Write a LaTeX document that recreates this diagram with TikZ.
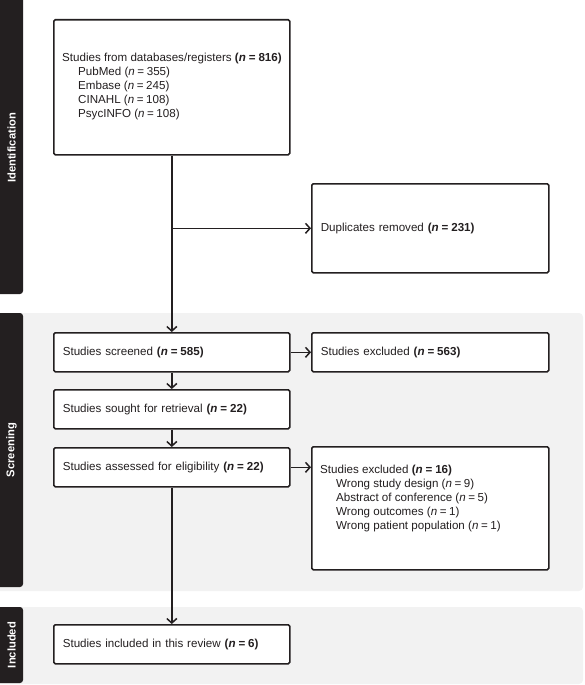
\documentclass[tikz,border=0pt]{standalone}
\usepackage{fontspec}
\setmainfont{Liberation Sans}
\usetikzlibrary{arrows.meta}
\definecolor{ink}{HTML}{231F20}
\definecolor{panel}{HTML}{F2F2F2}
\newcommand{\nb}[1]{\textbf{(\textit{n}\hspace{0.25em}=\hspace{0.25em}#1)}}
\newcommand{\nn}[1]{(\textit{n}\hspace{0.22em}=\hspace{0.22em}#1)}
\begin{document}
\begin{tikzpicture}[x=1pt,y=-1pt,
  box/.style={draw=ink, line width=1.6pt, rounded corners=1.5pt, fill=white,
    anchor=north west, inner xsep=9pt, inner ysep=0pt, align=left,
    font=\fontsize{11.6}{14}\selectfont, text=ink},
  txt/.style={font=\fontsize{11.6}{14}\selectfont, text=ink, align=left, inner sep=0pt},
  side/.style={rotate=90, text=white, font=\bfseries\fontsize{11.2}{12}\selectfont, inner sep=0pt},
  conn/.style={draw=ink, line width=1.5pt, -{Straight Barb[length=4.5pt,width=10pt,line width=1.5pt]}}]
\useasboundingbox (0,0) rectangle (584,685);
% panels
\fill[panel, rounded corners=4pt] (-10,313) rectangle (583,591);
\fill[panel, rounded corners=4pt] (-10,607) rectangle (583,684);
\fill[ink, rounded corners=3pt] (-10,-10) rectangle (23,294);
\fill[ink, rounded corners=3pt] (-10,313) rectangle (23,587);
\fill[ink, rounded corners=3pt] (-10,607) rectangle (23,683);
\node[side] (lid) at (11.5,148) {Identification};
\node[side] (lsc) at (11.5,450) {Screening};
\node[side] (lin) at (11.5,645) {Included};
% boxes
\node[box, minimum width=236pt, minimum height=135pt] (db) at (53,19) {};
\node[txt, anchor=west] (dbt) at (62,86.5)
  {Studies from databases/registers \nb{816}\\
   \hspace*{16pt}PubMed \nn{355}\\
   \hspace*{16pt}Embase \nn{245}\\
   \hspace*{16pt}CINAHL \nn{108}\\
   \hspace*{16pt}PsycINFO \nn{108}};
\node[box, minimum width=237pt, minimum height=89pt, text width=219pt] (dup) at (311,183)
  {Duplicates removed \nb{231}};
\node[box, minimum width=236pt, minimum height=39pt, text width=218pt] (scr) at (53,332)
  {Studies screened \nb{585}};
\node[box, minimum width=237pt, minimum height=39pt, text width=219pt] (ex1) at (311,332)
  {Studies excluded \nb{563}};
\node[box, minimum width=236pt, minimum height=39pt, text width=218pt] (sou) at (53,389)
  {Studies sought for retrieval \nb{22}};
\node[box, minimum width=236pt, minimum height=39pt, text width=218pt] (ass) at (53,447)
  {Studies assessed for eligibility \nb{22}};
\node[box, minimum width=237pt, minimum height=123pt] (ex2) at (311,446) {};
\node[txt, anchor=north west] (ex2t) at (320,465)
  {Studies excluded \nb{16}\\
   \hspace*{16pt}Wrong study design \nn{9}\\
   \hspace*{16pt}Abstract of conference \nn{5}\\
   \hspace*{16pt}Wrong outcomes \nn{1}\\
   \hspace*{16pt}Wrong patient population \nn{1}};
\node[box, minimum width=236pt, minimum height=39pt, text width=218pt] (inc) at (53,624)
  {Studies included in this review \nb{6}};
% connectors
\draw[conn] (db.south) -- (scr.north);
\draw[conn] (db.south |- dup.west) -- (dup.west);
\draw[conn] (scr.east) -- (ex1.west);
\draw[conn] (scr.south) -- (sou.north);
\draw[conn] (sou.south) -- (ass.north);
\draw[conn] (ass.east) -- (ass.east -| ex2.west);
\draw[conn] (ass.south) -- (inc.north);
\end{tikzpicture}
\end{document}
